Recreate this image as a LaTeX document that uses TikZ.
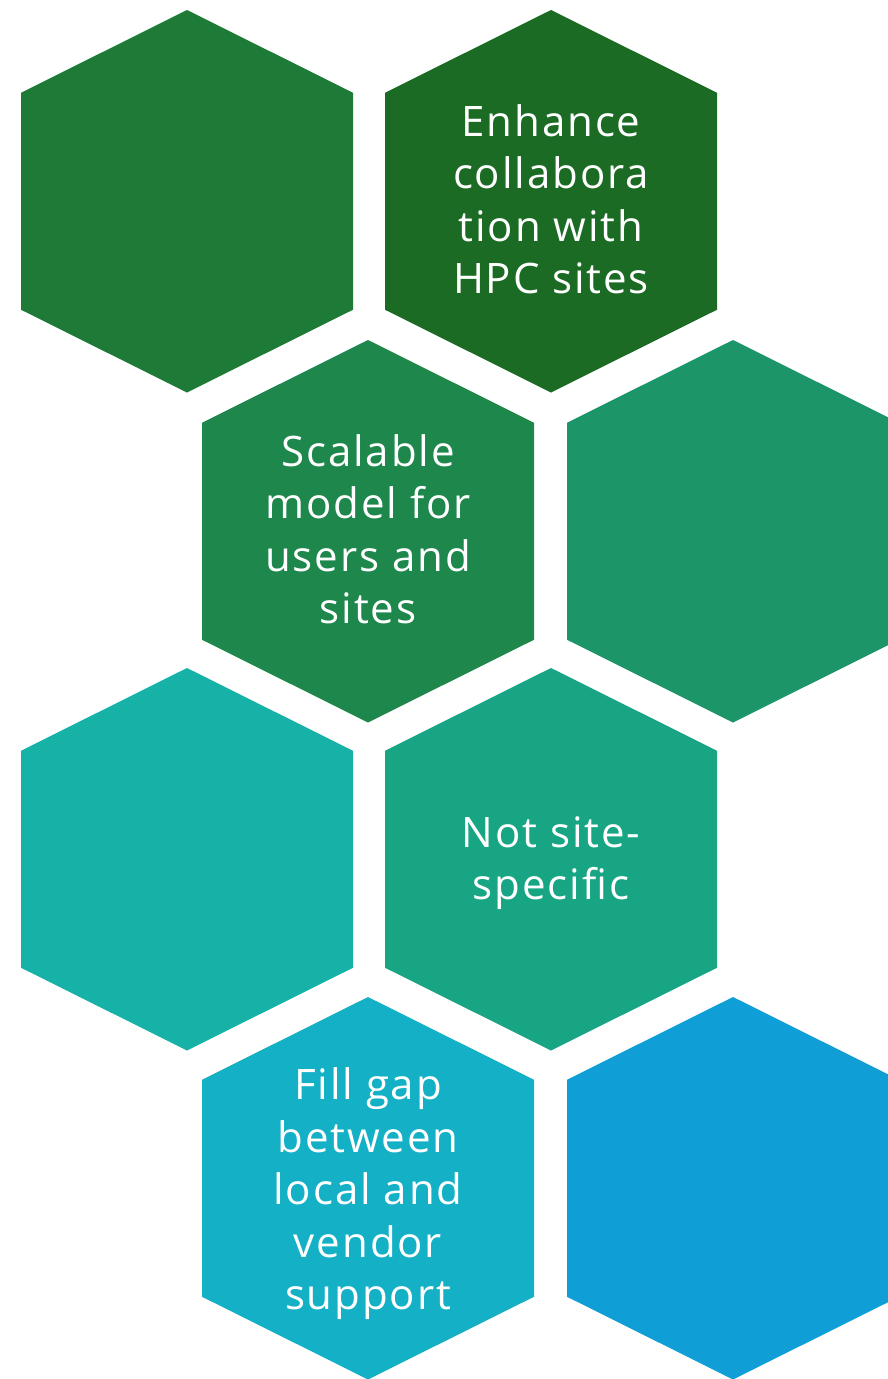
\documentclass[tikz,border=0pt]{standalone}
\usepackage{fontspec}
\setmainfont[LetterSpace=4.5]{Open Sans}
\definecolor{hA}{HTML}{1E7B37}
\definecolor{hB}{HTML}{1B6B24}
\definecolor{hC}{HTML}{1E874C}
\definecolor{hD}{HTML}{1C9668}
\definecolor{hE}{HTML}{17B2A7}
\definecolor{hF}{HTML}{18A584}
\definecolor{hG}{HTML}{14B0C6}
\definecolor{hH}{HTML}{109ED6}
\newcommand{\hexat}[3]{%
  \fill[#3] (#1,#2) ++(0,-191.5) -- ++(166,82.75) -- ++(0,217) -- ++(-166,82.75) -- ++(-166,-82.75) -- ++(0,-217) -- cycle;}
\tikzset{hextext/.style={text=white, align=center, font=\fontsize{42}{52.5}\selectfont, inner sep=0pt}}
\begin{document}
\begin{tikzpicture}[x=1pt,y=-1pt]
\useasboundingbox (0,0) rectangle (888,1379);
\clip (0,0) rectangle (888,1379);
\hexat{187}{201.5}{hA}
\hexat{551}{201.5}{hB}
\hexat{368}{531.5}{hC}
\hexat{733}{531.5}{hD}
\hexat{187}{859.5}{hE}
\hexat{551}{859.5}{hF}
\hexat{368}{1188.5}{hG}
\hexat{733}{1188.5}{hH}
\node[hextext] (t1) at (551,199) {Enhance\\collabora\\tion with\\HPC sites};
\node[hextext] (t2) at (368,529) {Scalable\\model for\\users and\\sites};
\node[hextext] (t3) at (551,863) {Not site-\\specific};
\node[hextext] (t4) at (368,1194) {Fill gap\\between\\local and\\vendor\\support};
\end{tikzpicture}
\end{document}
